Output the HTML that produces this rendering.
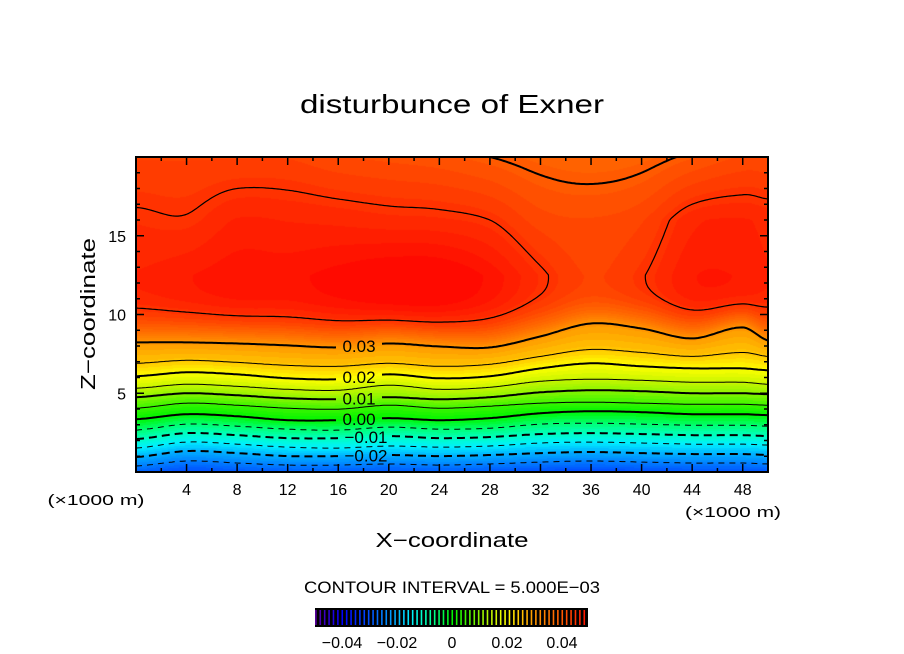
<!DOCTYPE html>
<html><head><meta charset="utf-8">
<style>
html,body{margin:0;padding:0;background:#fff;}
#wrap{position:relative;width:904px;height:654px;overflow:hidden;font-family:"Liberation Sans",sans-serif;}
#field{position:absolute;left:136px;top:157px;}
#over{position:absolute;left:0;top:0;}
</style></head>
<body>
<div id="wrap">
<canvas id="field" width="632" height="315"></canvas>
<svg id="over" width="904" height="654" xmlns="http://www.w3.org/2000/svg">
  <text x="452" y="113" font-size="26" text-anchor="middle" textLength="304" lengthAdjust="spacingAndGlyphs">disturbunce of Exner</text>
  <g id="contours"></g>
  <g id="axes"></g>
  <rect x="136" y="157" width="632" height="315" fill="none" stroke="#000" stroke-width="2"/>
  <text x="96" y="505" font-size="15" text-anchor="middle" textLength="97" lengthAdjust="spacingAndGlyphs">(×1000 m)</text>
  <text x="733" y="517" font-size="15" text-anchor="middle" textLength="96" lengthAdjust="spacingAndGlyphs">(×1000 m)</text>
  <text x="452" y="547" font-size="20" text-anchor="middle" textLength="153" lengthAdjust="spacingAndGlyphs">X−coordinate</text>
  <text x="0" y="0" font-size="20" text-anchor="middle" textLength="152" lengthAdjust="spacingAndGlyphs" transform="translate(95,314) rotate(-90)">Z−coordinate</text>
  <text x="452" y="593" font-size="17" text-anchor="middle" textLength="296" lengthAdjust="spacingAndGlyphs">CONTOUR INTERVAL = 5.000E−03</text>
  <rect x="315" y="608" width="273" height="19" fill="#000"/>
  <g id="cbar"></g>
</svg>
</div>
<script>
// ---- data ----
const xs = [0,4,8,12,16,20,24,28,32,36,40,44,48,50];
const levels = [-0.025,-0.02,-0.015,-0.01,-0.005,0,0.005,0.01,0.015,0.02,0.025,0.03];
const h_m025 = [0.38,0.70,0.57,0.44,0.44,0.51,0.44,0.51,0.63,0.70,0.63,0.57,0.57,0.51];
const h_m020 = [0.95,1.33,1.20,1.01,1.01,1.08,1.01,1.08,1.20,1.27,1.20,1.14,1.14,1.08];
const h_m015 = [1.52,1.90,1.77,1.58,1.52,1.65,1.58,1.65,1.84,1.90,1.84,1.77,1.77,1.71];
const h_m010 = [2.09,2.47,2.34,2.15,2.15,2.28,2.15,2.22,2.41,2.47,2.41,2.34,2.34,2.28];
const h_m005 = [2.66,3.04,2.91,2.72,2.66,2.85,2.72,2.78,3.04,3.10,3.04,2.97,2.97,2.91];
const h_000 = [3.35,3.67,3.54,3.29,3.29,3.42,3.29,3.42,3.73,3.86,3.80,3.67,3.67,3.61];
const h_p005 = [4.05,4.37,4.24,4.05,3.99,4.24,4.05,4.18,4.37,4.43,4.37,4.30,4.30,4.24];
const h_p010 = [4.75,5.00,4.87,4.68,4.62,4.75,4.62,4.75,5.06,5.19,5.13,5.00,5.00,4.94];
const h_p015 = [5.32,5.57,5.44,5.25,5.19,5.51,5.25,5.38,5.76,5.89,5.82,5.70,5.70,5.57];
const h_p020 = [6.08,6.33,6.20,5.95,5.89,6.20,5.95,6.08,6.58,6.90,6.71,6.58,6.58,6.46];
const h_p025 = [6.90,7.09,6.96,6.77,6.71,6.90,6.71,6.84,7.34,7.78,7.59,7.34,7.59,7.34];
const h_p030 = [8.23,8.23,8.16,8.04,7.91,8.16,7.97,7.91,8.61,9.43,9.11,8.48,9.18,8.35];
const peakVal = [0.047,0.048,0.049,0.049,0.050,0.051,0.051,0.049,0.0455,0.043,0.0448,0.048,0.048,0.047];
const val16 = [0.0455,0.0452,0.047,0.0468,0.0465,0.046,0.0458,0.045,0.0425,0.042,0.043,0.0465,0.047,0.0465];
const topVal = [0.043,0.043,0.043,0.043,0.042,0.0415,0.041,0.040,0.039,0.0385,0.039,0.0405,0.042,0.042];
const xTicks = [4,8,12,16,20,24,28,32,36,40,44,48];
const zTicks = [5,10,15];
const cbLabels = [-0.04,-0.02,0,0.02,0.04];
const cbLabelText = ["−0.04","−0.02","0","0.02","0.04"];
const contourLabels = [[0.03,"0.03"],[0.02,"0.02"],[0.01,"0.01"],[0,"0.00"],[-0.01,"−0.01"],[-0.02,"−0.02"]];
const levelHeights = [h_m025,h_m020,h_m015,h_m010,h_m005,h_000,h_p005,h_p010,h_p015,h_p020,h_p025,h_p030];

// ---- scales ----
const PX0=136, PY0=157, PW=632, PH=315, XMAX=50, ZMAX=20;
const sx = x => PX0 + x/XMAX*PW;
const sz = z => PY0 + PH - z/ZMAX*PH;
const NS="http://www.w3.org/2000/svg";

function interp(arr, x){
  let i=0; while(i<xs.length-2 && x>xs[i+1]) i++;
  const t=(x-xs[i])/(xs[i+1]-xs[i]);
  const p0=arr[Math.max(0,i-1)], p1=arr[i], p2=arr[i+1], p3=arr[Math.min(arr.length-1,i+2)];
  const t2=t*t, t3=t2*t;
  return 0.5*((2*p1)+(-p0+p2)*t+(2*p0-5*p1+4*p2-p3)*t2+(-p0+3*p1-3*p2+p3)*t3);
}
function column(x){
  return {H: levelHeights.map(a=>interp(a,x)), pk:interp(peakVal,x), v16:interp(val16,x), top:interp(topVal,x)};
}
function value(c, z){
  const H=c.H, n=H.length;
  if(z<H[0]) return levels[0]-(H[0]-z)/(H[1]-H[0])*0.005;
  for(let k=0;k<n-1;k++) if(z<H[k+1]) return levels[k]+(z-H[k])/(H[k+1]-H[k])*0.005;
  const h30=H[n-1];
  if(z<12.5){ const t=(z-h30)/(12.5-h30); return 0.03+(c.pk-0.03)*(1-Math.pow(1-t,3)); }
  if(z<16) return c.pk+(c.v16-c.pk)*(z-12.5)/3.5;
  return c.v16+(c.top-c.v16)*(z-16)/4;
}
const stops=[[-0.05,[96,0,160]],[-0.04,[0,0,255]],[-0.03,[0,80,255]],[-0.025,[0,128,255]],[-0.02,[0,176,255]],[-0.015,[0,240,255]],[-0.01,[0,255,192]],[-0.005,[0,255,112]],[0,[0,245,0]],[0.005,[60,245,0]],[0.01,[140,245,0]],[0.015,[200,245,0]],[0.02,[255,255,0]],[0.025,[255,196,0]],[0.03,[255,150,0]],[0.035,[255,120,0]],[0.04,[255,90,0]],[0.045,[255,50,0]],[0.05,[255,10,0]]];
function color(v){
  if(v<=stops[0][0]) return stops[0][1];
  for(let i=0;i<stops.length-1;i++){
    if(v<=stops[i+1][0]){const t=(v-stops[i][0])/(stops[i+1][0]-stops[i][0]);
      return stops[i][1].map((c,j)=>Math.round(c+(stops[i+1][1][j]-c)*t));}
  }
  return stops[stops.length-1][1];
}

// ---- filled field ----
const cv=document.getElementById('field'), ctx=cv.getContext('2d');
const img=ctx.createImageData(PW,PH);
const STEP=2, GW=PW/STEP+1, GH=Math.ceil(PH/STEP)+1;
const grid=[];
for(let px=0;px<PW;px++){
  const c=column((px+0.5)/PW*XMAX);
  for(let py=0;py<PH;py++){
    const z=(PH-py-0.5)/PH*ZMAX;
    let v=value(c,z); v=Math.round(v/0.00125)*0.00125;
    const col=color(v), o=(py*PW+px)*4;
    img.data[o]=col[0]; img.data[o+1]=col[1]; img.data[o+2]=col[2]; img.data[o+3]=255;
  }
}
ctx.putImageData(img,0,0);
for(let i=0;i<GW;i++){
  const x=i*STEP/PW*XMAX, c=column(x), colv=[];
  for(let j=0;j<GH;j++){ colv.push(value(c,(PH-j*STEP)/PH*ZMAX)); }
  grid.push(colv);
}

// ---- contour lines ----
const cg=document.getElementById('contours');
levels.forEach((lv,k)=>{
  const labeled = contourLabels.some(l=>Math.abs(l[0]-lv)<1e-9);
  const g0 = lv<0 ? 338 : 336, g1 = lv<0 ? 392 : 382;
  let d="", pen=false;
  for(let px=PX0; px<=PX0+PW; px+=2){
    const x=(px-PX0)/PW*XMAX;
    const z=interp(levelHeights[k],x);
    if(labeled && px>g0 && px<g1){pen=false;continue;}
    d+=(pen?"L":"M")+px+" "+sz(z).toFixed(1)+" "; pen=true;
  }
  const p=document.createElementNS(NS,'path');
  p.setAttribute('d',d); p.setAttribute('fill','none'); p.setAttribute('stroke','#000');
  const major=Math.abs(Math.round(lv*100)-lv*100)<1e-6;
  p.setAttribute('stroke-width', major?2:1);
  if(lv<0) p.setAttribute('stroke-dasharray', major?'8 5':'6 5');
  
  
  cg.appendChild(p);
});
contourLabels.forEach(l=>{
  const k=levels.findIndex(v=>Math.abs(v-l[0])<1e-9);
  const z=interp(levelHeights[k],(360-PX0)/PW*XMAX);
  const t=document.createElementNS(NS,'text');
  t.setAttribute('x', l[0]<0?366:359); t.setAttribute('y',(sz(z)+6).toFixed(1));
  t.setAttribute('font-size','17'); t.setAttribute('text-anchor','middle');
  t.textContent=l[1];
  
  
  cg.appendChild(t);
});
function marching(level, minZ, width, name){
  let d="";
  const X=i=>PX0+i*STEP, Y=j=>PY0+j*STEP;
  for(let i=0;i<GW-1;i++) for(let j=0;j<GH-1;j++){
    const zc=(PH-j*STEP)/PH*ZMAX; if(zc<minZ) continue;
    const a=grid[i][j], b=grid[i+1][j], c=grid[i+1][j+1], e=grid[i][j+1];
    const pts=[];
    const ed=(v1,v2,x1,y1,x2,y2)=>{ if((v1-level)*(v2-level)<0){const t=(level-v1)/(v2-v1); pts.push([x1+(x2-x1)*t,y1+(y2-y1)*t]);} };
    ed(a,b,X(i),Y(j),X(i+1),Y(j));
    ed(b,c,X(i+1),Y(j),X(i+1),Y(j+1));
    ed(c,e,X(i+1),Y(j+1),X(i),Y(j+1));
    ed(e,a,X(i),Y(j+1),X(i),Y(j));
    for(let m=0;m+1<pts.length;m+=2) d+="M"+pts[m][0].toFixed(1)+" "+pts[m][1].toFixed(1)+"L"+pts[m+1][0].toFixed(1)+" "+pts[m+1][1].toFixed(1);
  }
  const p=document.createElementNS(NS,'path');
  p.setAttribute('d',d); p.setAttribute('fill','none'); p.setAttribute('stroke','#000');
  p.setAttribute('stroke-width',width); p.setAttribute('stroke-linecap','round');
  
  
  cg.appendChild(p);
}
marching(0.045, 8.5, 1.2, 'contour-0.045');
marching(0.04, 13.5, 2, 'contour-0.04');

// ---- axes ----
const ag=document.getElementById('axes');
function line(x1,y1,x2,y2,w,name){
  const l=document.createElementNS(NS,'line');
  l.setAttribute('x1',x1);l.setAttribute('y1',y1);l.setAttribute('x2',x2);l.setAttribute('y2',y2);
  l.setAttribute('stroke','#000');l.setAttribute('stroke-width',w);
  
  
  ag.appendChild(l);
}
function txt(x,y,s,anchor,size,name){
  const t=document.createElementNS(NS,'text');
  t.setAttribute('x',x);t.setAttribute('y',y);t.setAttribute('font-size',size);t.setAttribute('text-anchor',anchor);
  t.textContent=s;
  
  
  ag.appendChild(t);
}
for(let x=2;x<XMAX;x+=2){
  const major=xTicks.includes(x), L=major?8:4;
  line(sx(x),PY0+PH,sx(x),PY0+PH-L,1.5,'x-tick');
  line(sx(x),PY0,sx(x),PY0+L,1.5,'x-tick-top');
}
for(let z=1;z<ZMAX;z++){
  const major=zTicks.includes(z), L=major?8:4;
  line(PX0,sz(z),PX0+L,sz(z),1.5,'z-tick');
  line(PX0+PW,sz(z),PX0+PW-L,sz(z),1.5,'z-tick-right');
}
xTicks.forEach(x=>txt(sx(x),495,String(x),'middle',16,'x-tick-label'));
zTicks.forEach(z=>txt(126,sz(z)+6,String(z),'end',16,'z-tick-label'));

// ---- colorbar ----
const cb=document.getElementById('cbar');
const CB0=452, CBS=2750;
for(let v=-0.0495; v<=0.0496; v+=0.0016){
  const l=document.createElementNS(NS,'line');
  const x=CB0+v*CBS;
  l.setAttribute('x1',x);l.setAttribute('x2',x);l.setAttribute('y1',610);l.setAttribute('y2',625);
  const c=color(v);
  l.setAttribute('stroke','rgb('+c.join(',')+')');l.setAttribute('stroke-width',1.6);
  
  
  cb.appendChild(l);
}
cbLabels.forEach((v,i)=>{
  const t=document.createElementNS(NS,'text');
  t.setAttribute('x',CB0+v*CBS);t.setAttribute('y',648);t.setAttribute('font-size',16);t.setAttribute('text-anchor','middle');
  t.textContent=cbLabelText[i];
  
  
  cb.appendChild(t);
});
</script>
</body></html>
